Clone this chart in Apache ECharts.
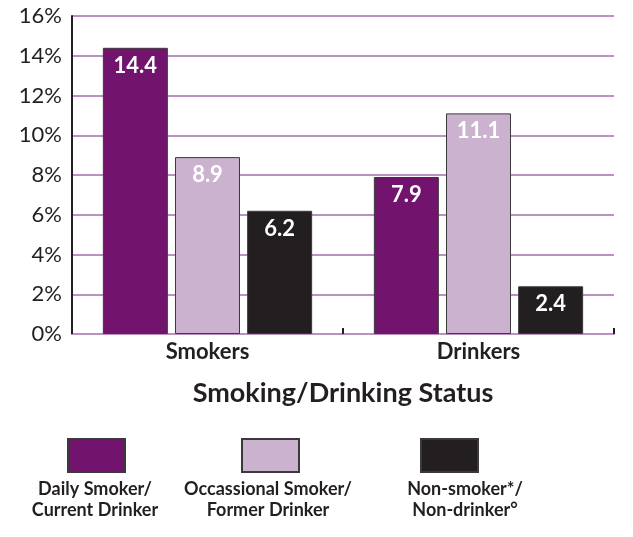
<!DOCTYPE html>
<html>
<head>
<meta charset="utf-8">
<script src="https://cdn.jsdelivr.net/npm/echarts@6/dist/echarts.min.js"></script>
<style>html,body{margin:0;padding:0;background:#fff}#c{width:633px;height:537px}</style>
</head>
<body>
<div id="c"></div>
<script>
const categories = ['Smokers', 'Drinkers'];
const seriesNames = ['Daily Smoker/\nCurrent Drinker', 'Occassional Smoker/\nFormer Drinker', 'Non-smoker*/\nNon-drinker°'];
const dailyCurrent = [14.4, 7.9];
const occasionalFormer = [8.9, 11.1];
const nonSmokerDrinker = [6.2, 2.4];
const yTicks = [0, 2, 4, 6, 8, 10, 12, 14, 16];
const xAxisTitle = 'Smoking/Drinking Status';

const colors = ['#72136e', '#cbb3d0', '#231f20'];
const FONT = 'Lato';
const dark = '#231f20';
const values = [dailyCurrent, occasionalFormer, nonSmokerDrinker];

const chart = echarts.init(document.getElementById('c'), null, {renderer: 'canvas'});

const series = values.map((v, i) => ({
  name: seriesNames[i],
  type: 'bar',
  data: v,
  barWidth: 65,
  barGap: '11%',
  itemStyle: {color: colors[i], borderColor: '#3a3a3a', borderWidth: 1},
  label: {
    show: true, position: 'insideTop', distance: 7,
    color: '#fff', fontFamily: FONT, fontWeight: 'bold', fontSize: 22,
    formatter: p => p.value.toFixed(1)
  }
}));

const legendCenters = [95, 269, 448];
const textCenters = [95, 268, 465];
const legends = seriesNames.map((n, i) => ({
  data: [n],
  left: legendCenters[i] - 28,
  top: 438,
  itemWidth: 57,
  itemHeight: 33,
  itemGap: 0,
  padding: 0,
  icon: 'rect',
  selectedMode: false,
  formatter: () => '',
  textStyle: {padding: 0}
}));

const graphics = seriesNames.map((n, i) => ({
  type: 'text',
  x: textCenters[i],
  y: 479,
  style: {
    text: n, x: 0, y: 0, textAlign: 'center', textVerticalAlign: 'top',
    font: 'bold 18px ' + FONT, fill: dark, lineHeight: 21
  }
}));

chart.setOption({
  animation: false,
  grid: {left: 72, right: 19, top: 16, bottom: 203, containLabel: false},
  legend: legends,
  xAxis: {
    type: 'category',
    data: categories,
    name: xAxisTitle,
    nameLocation: 'middle',
    nameGap: 46,
    nameTextStyle: {fontFamily: FONT, fontWeight: 'bold', fontSize: 27, color: dark},
    axisLine: {lineStyle: {color: '#b992c0', width: 2}},
    axisTick: {show: true, inside: true, length: 6, lineStyle: {color: dark, width: 2}},
    axisLabel: {fontFamily: FONT, fontWeight: 'bold', fontSize: 22, color: dark, margin: 7}
  },
  yAxis: {
    type: 'value',
    min: yTicks[0],
    max: yTicks[yTicks.length - 1],
    interval: yTicks[1] - yTicks[0],
    axisLine: {show: true, lineStyle: {color: dark, width: 2}},
    axisTick: {show: false},
    splitLine: {lineStyle: {color: '#b992c0', width: 2}},
    axisLabel: {fontFamily: FONT, fontSize: 22, color: dark, margin: 10, formatter: '{value}%'}
  },
  series: series,
  graphic: graphics
});
</script>
</body>
</html>
